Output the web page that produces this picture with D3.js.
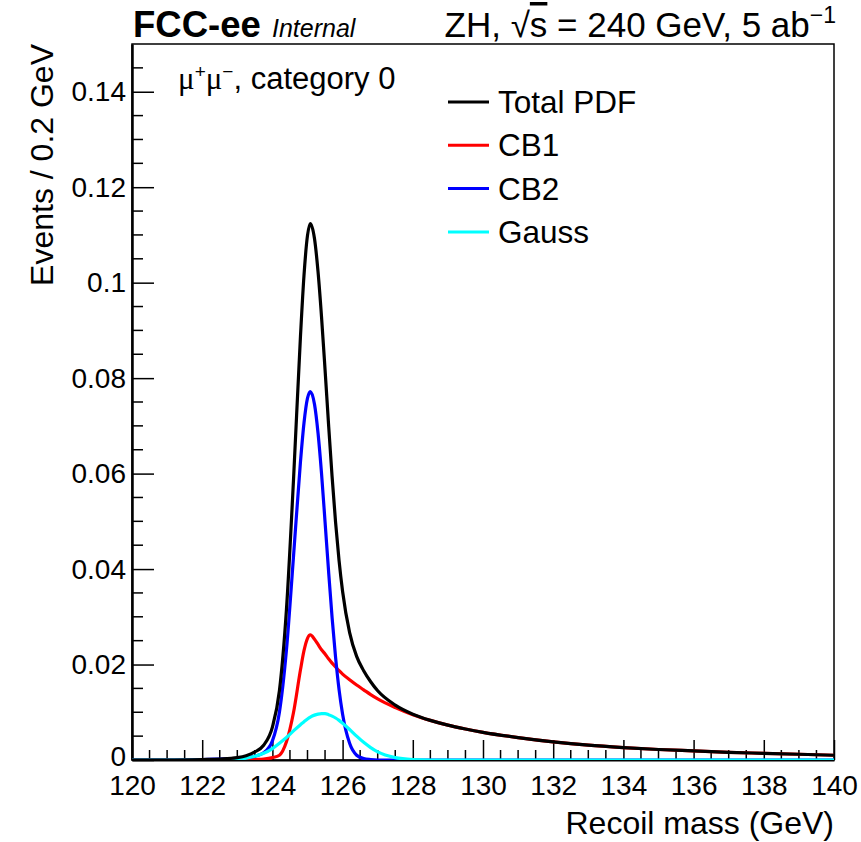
<!DOCTYPE html>
<html>
<head>
<meta charset="utf-8">
<script src="https://cdn.jsdelivr.net/npm/d3@7"></script>
<style>
  body { margin: 0; background: #fff; }
  svg text { font-family: "Liberation Sans", Arial, Helvetica, sans-serif; }
</style>
</head>
<body>
<div id="chart"></div>
<script>
// recoil mass grid (GeV) and the pdf values
const mass = [120, 121, 122, 122.5, 123, 123.25, 123.5, 123.75, 124, 124.2, 124.4, 124.6, 124.8, 124.9,
  125, 125.08, 125.2, 125.3, 125.4, 125.5, 125.6, 125.7, 125.8, 125.9, 126, 126.2, 126.4, 126.6, 126.8,
  127, 127.5, 128, 128.5, 129, 129.5, 130, 131, 132, 133, 134, 135, 136, 137, 138, 139, 140];

const cb1 = [0, 0, 0, 0, 0, 0, 0.0001, 0.0002, 0.0005, 0.0010, 0.0038, 0.0099, 0.0189, 0.0229,
  0.0255, 0.0262, 0.0253, 0.0242, 0.0231, 0.0222, 0.0212, 0.0203, 0.0195, 0.0187, 0.0180, 0.0168, 0.0157, 0.0147, 0.0137,
  0.0128, 0.0110, 0.0095, 0.0083, 0.0073, 0.0065, 0.0058, 0.0047, 0.0038, 0.0031, 0.0026, 0.0022, 0.0019, 0.0016, 0.0014, 0.0012, 0.0010];

const cb2 = [0, 0, 0.0001, 0.0002, 0.0003, 0.0005, 0.0008, 0.0015, 0.0040, 0.0100, 0.0230, 0.0425, 0.0625, 0.0706,
  0.0758, 0.0772, 0.0745, 0.0685, 0.0600, 0.0499, 0.0396, 0.0299, 0.0215, 0.0147, 0.0096, 0.0035, 0.0010, 0.0003, 0.0001,
  0, 0, 0, 0, 0, 0, 0, 0, 0, 0, 0, 0, 0, 0, 0, 0, 0];

const gauss = [0, 0, 0, 0, 0.0002, 0.0004, 0.0008, 0.0014, 0.0024, 0.0035, 0.0047, 0.0061, 0.0074, 0.0080,
  0.0086, 0.0090, 0.0094, 0.0096, 0.0097, 0.0097, 0.0095, 0.0092, 0.0088, 0.0083, 0.0077, 0.0064, 0.0050, 0.0037, 0.0026,
  0.0017, 0.0005, 0.0001, 0, 0, 0, 0, 0, 0, 0, 0, 0, 0, 0, 0, 0, 0];

const total = [0, 0, 0.0001, 0.0002, 0.0005, 0.0009, 0.0017, 0.0031, 0.0069, 0.0145, 0.0315, 0.0585, 0.0888, 0.1015,
  0.1099, 0.1124, 0.1092, 0.1023, 0.0928, 0.0818, 0.0703, 0.0594, 0.0498, 0.0417, 0.0353, 0.0267, 0.0217, 0.0187, 0.0164,
  0.0145, 0.0115, 0.0096, 0.0083, 0.0073, 0.0065, 0.0058, 0.0047, 0.0038, 0.0031, 0.0026, 0.0022, 0.0019, 0.0016, 0.0014, 0.0012, 0.0010];

const xTicks = [120, 122, 124, 126, 128, 130, 132, 134, 136, 138, 140];
const yTicks = [0, 0.02, 0.04, 0.06, 0.08, 0.1, 0.12, 0.14];

const legendNames = ["Total PDF", "CB1", "CB2", "Gauss"];
const legendColors = ["#000000", "#ff0000", "#0000ff", "#00ffff"];

const W = 861, H = 842;
const padL = 132, padR = 834, padT = 44, padB = 760;

const svg = d3.select("#chart").append("svg")
  .attr("width", W).attr("height", H);

const x = d3.scaleLinear().domain([120, 140]).range([padL, padR]);
const y = d3.scaleLinear().domain([0, 0.15]).range([padB, padT]);

// clip so curves stay in the frame
svg.append("clipPath").attr("id", "frame")
  .append("rect").attr("x", padL).attr("y", padT).attr("width", padR - padL).attr("height", padB - padT);

// frame
svg.append("rect")
  .attr("x", padL).attr("y", padT).attr("width", padR - padL).attr("height", padB - padT)
  .attr("fill", "none").attr("stroke", "#000").attr("stroke-width", 1.5);

// x axis: major ticks every 2 GeV, minor every 0.5
const xAxis = d3.axisBottom(x).tickValues(xTicks).tickSizeInner(-20).tickSizeOuter(0).tickPadding(15).tickFormat(d3.format("d"));
const gx = svg.append("g").attr("transform", `translate(0,${padB})`).call(xAxis);
gx.select(".domain").attr("stroke-width", 2);
gx.selectAll(".tick line").attr("stroke-width", 1.5);
gx.selectAll(".tick text").attr("font-size", 28).attr("fill", "#000");

const xMinor = d3.range(120.5, 140, 0.5).filter(v => Math.abs(v / 2 - Math.round(v / 2)) > 0.01);
svg.append("g").selectAll("line").data(xMinor).enter().append("line")
  .attr("x1", d => x(d)).attr("x2", d => x(d))
  .attr("y1", padB).attr("y2", padB - 10)
  .attr("stroke", "#000").attr("stroke-width", 1.5);

// y axis: major ticks every 0.02, minor every 0.005
const yAxis = d3.axisLeft(y).tickValues(yTicks).tickSizeInner(-22).tickSizeOuter(0).tickPadding(6)
  .tickFormat(d => d === 0 ? "0" : String(+d.toFixed(2)));
const gy = svg.append("g").attr("transform", `translate(${padL},0)`).call(yAxis);
gy.select(".domain").attr("stroke-width", 2.5);
gy.selectAll(".tick line").attr("stroke-width", 1.5);
gy.selectAll(".tick text").attr("font-size", 28).attr("fill", "#000");
// the "0" label sits a touch higher in the original
gy.selectAll(".tick text").filter(d => d === 0).attr("dy", "0.2em");

const yMinor = d3.range(0.005, 0.15, 0.005).filter(v => Math.abs(v / 0.02 - Math.round(v / 0.02)) > 0.01);
svg.append("g").selectAll("line").data(yMinor).enter().append("line")
  .attr("x1", padL).attr("x2", padL + 11)
  .attr("y1", d => y(d)).attr("y2", d => y(d))
  .attr("stroke", "#000").attr("stroke-width", 1.5);

// curves
const line = d3.line().x(d => x(d[0])).y(d => y(d[1])).curve(d3.curveMonotoneX);
const series = [
  { vals: cb1, color: legendColors[1] },
  { vals: cb2, color: legendColors[2] },
  { vals: gauss, color: legendColors[3] },
  { vals: total, color: legendColors[0] }
];
const curves = svg.append("g").attr("clip-path", "url(#frame)");
series.forEach(s => {
  curves.append("path")
    .datum(mass.map((m, i) => [m, s.vals[i]]))
    .attr("d", line)
    .attr("fill", "none")
    .attr("stroke", s.color)
    .attr("stroke-width", 3.2)
    .attr("stroke-linejoin", "round");
});

// legend
const leg = svg.append("g");
legendNames.forEach((name, i) => {
  const ly = 102 + i * 43.3;
  leg.append("line")
    .attr("x1", 448).attr("x2", 489).attr("y1", ly).attr("y2", ly)
    .attr("stroke", legendColors[i]).attr("stroke-width", 3);
  leg.append("text")
    .attr("x", 498).attr("y", ly + 11)
    .attr("font-size", 31.5).attr("fill", "#000")
    .text(name);
});

// axis titles
svg.append("text")
  .attr("x", padR).attr("y", 834)
  .attr("text-anchor", "end").attr("font-size", 32)
  .text("Recoil mass (GeV)");

svg.append("text")
  .attr("transform", "translate(53,44) rotate(-90)")
  .attr("text-anchor", "end").attr("font-size", 32)
  .text("Events / 0.2 GeV");

// header
svg.append("text").attr("x", 133).attr("y", 37)
  .attr("font-size", 36.5).attr("font-weight", "bold").text("FCC-ee");
svg.append("text").attr("x", 272).attr("y", 37)
  .attr("font-size", 25).attr("font-style", "italic").text("Internal");

const head = svg.append("text").attr("x", 836).attr("y", 37)
  .attr("text-anchor", "end").attr("font-size", 35);
head.append("tspan").text("ZH,  ");
head.append("tspan").text("√");
head.append("tspan").attr("text-decoration", "overline").text("s");
head.append("tspan").text(" = 240 GeV, 5 ab");
head.append("tspan").attr("dy", -14).attr("font-size", 23).text("−1");

// channel label
const lab = svg.append("text").attr("x", 178).attr("y", 89).attr("font-size", 31);
lab.append("tspan").attr("font-family", "Liberation Serif, Times New Roman, serif").text("μ");
lab.append("tspan").attr("dy", -11).attr("font-size", 19).text("+");
lab.append("tspan").attr("dy", 11).attr("font-family", "Liberation Serif, Times New Roman, serif").text("μ");
lab.append("tspan").attr("dy", -11).attr("font-size", 19).text("−");
lab.append("tspan").attr("dy", 11).text(", category 0");
</script>
</body>
</html>
